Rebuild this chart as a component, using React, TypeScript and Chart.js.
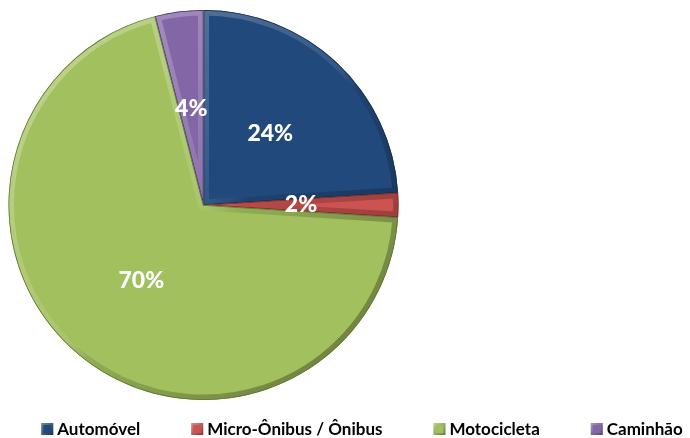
import React, { useEffect, useRef } from "react";
import { Chart, registerables } from "chart.js";

Chart.register(...registerables);

const categories = ["Automóvel", "Micro-Ônibus / Ônibus", "Motocicleta", "Caminhão"];
const values = [24, 2, 70, 4];
const colors = ["#22497C", "#CD5350", "#A2C05E", "#8366A6"];
const borderColors = ["#14304F", "#7A2C2A", "#5F7530", "#4A3766"];

const FONT = "Lato, 'Open Sans', 'DejaVu Sans', sans-serif";

const areaPlugin = {
  id: "customArea",
  afterLayout(chart: any) {
    const a = chart.chartArea;
    a.left = 8.5;
    a.right = 398.5;
    a.top = 10;
    a.bottom = 400;
    a.width = a.right - a.left;
    a.height = a.bottom - a.top;
  },
};

const bevelPlugin = {
  id: "bevel",
  afterDatasetsDraw(chart: any) {
    const ctx = chart.ctx;
    const meta = chart.getDatasetMeta(0);
    meta.data.forEach((arc: any, i: number) => {
      const { x, y, startAngle, endAngle, outerRadius } = arc.getProps(
        ["x", "y", "startAngle", "endAngle", "outerRadius"],
        true
      );
      ctx.save();
      ctx.beginPath();
      ctx.moveTo(x, y);
      ctx.arc(x, y, outerRadius, startAngle, endAngle);
      ctx.closePath();
      ctx.clip();
      const g = ctx.createLinearGradient(x - outerRadius, y - outerRadius, x + outerRadius, y + outerRadius);
      g.addColorStop(0, "rgba(255,255,255,0.35)");
      g.addColorStop(0.5, "rgba(255,255,255,0.08)");
      g.addColorStop(0.55, "rgba(0,0,0,0.1)");
      g.addColorStop(1, "rgba(0,0,0,0.4)");
      ctx.lineWidth = 11;
      ctx.lineJoin = "round";
      ctx.strokeStyle = g;
      ctx.stroke();
      ctx.lineWidth = 1.5;
      ctx.strokeStyle = borderColors[i];
      ctx.stroke();
      ctx.restore();
    });
  },
};

const labelPlugin = {
  id: "sliceLabels",
  afterDatasetsDraw(chart: any) {
    const ctx = chart.ctx;
    const meta = chart.getDatasetMeta(0);
    const data = chart.data.datasets[0].data as number[];
    const total = data.reduce((s, v) => s + v, 0);
    ctx.save();
    ctx.font = `900 23px ${FONT}`;
    ctx.fillStyle = "#FFFFFF";
    ctx.textAlign = "center";
    ctx.textBaseline = "middle";
    meta.data.forEach((arc: any, i: number) => {
      const p = arc.tooltipPosition(true);
      ctx.fillText(Math.round((data[i] / total) * 100) + "%", p.x, p.y);
    });
    ctx.restore();
  },
};

const legendPlugin = {
  id: "customLegend",
  afterDraw(chart: any) {
    const ctx = chart.ctx;
    const labels = chart.data.labels as string[];
    const box = 12;
    const textGap = 4;
    const itemGap = 51;
    const centerX = 362;
    const cy = 429;
    ctx.save();
    ctx.font = `bold 17px ${FONT}`;
    const widths = labels.map((l) => box + textGap + ctx.measureText(l).width);
    const total = widths.reduce((s, w) => s + w, 0) + itemGap * (labels.length - 1);
    let x = centerX - total / 2;
    labels.forEach((l, i) => {
      ctx.fillStyle = colors[i];
      ctx.fillRect(x, cy - box / 2, box, box);
      const g = ctx.createLinearGradient(x, cy - box / 2, x + box, cy + box / 2);
      g.addColorStop(0, "rgba(255,255,255,0.35)");
      g.addColorStop(1, "rgba(0,0,0,0.35)");
      ctx.strokeStyle = g;
      ctx.lineWidth = 2;
      ctx.strokeRect(x + 1, cy - box / 2 + 1, box - 2, box - 2);
      ctx.fillStyle = "#000000";
      ctx.textAlign = "left";
      ctx.textBaseline = "middle";
      ctx.fillText(l, x + box + textGap, cy + 1);
      x += widths[i] + itemGap;
    });
    ctx.restore();
  },
};

export default function App() {
  const ref = useRef<HTMLCanvasElement | null>(null);
  useEffect(() => {
    document.body.style.margin = "0";
    if (!ref.current) return;
    const chart = new Chart(ref.current, {
      type: "pie",
      data: {
        labels: categories,
        datasets: [
          {
            data: values,
            backgroundColor: colors,
            borderWidth: 0,
          },
        ],
      },
      options: {
        responsive: false,
        animation: false,
        plugins: {
          legend: { display: false },
          tooltip: { enabled: false },
        },
      },
      plugins: [areaPlugin, bevelPlugin, labelPlugin, legendPlugin],
    });
    return () => chart.destroy();
  }, []);
  return (
    <div style={{ position: "fixed", left: 0, top: 0, width: 690, height: 438, background: "#fff" }}>
      <canvas ref={ref} width={690} height={438} style={{ width: 690, height: 438, display: "block" }} />
    </div>
  );
}
